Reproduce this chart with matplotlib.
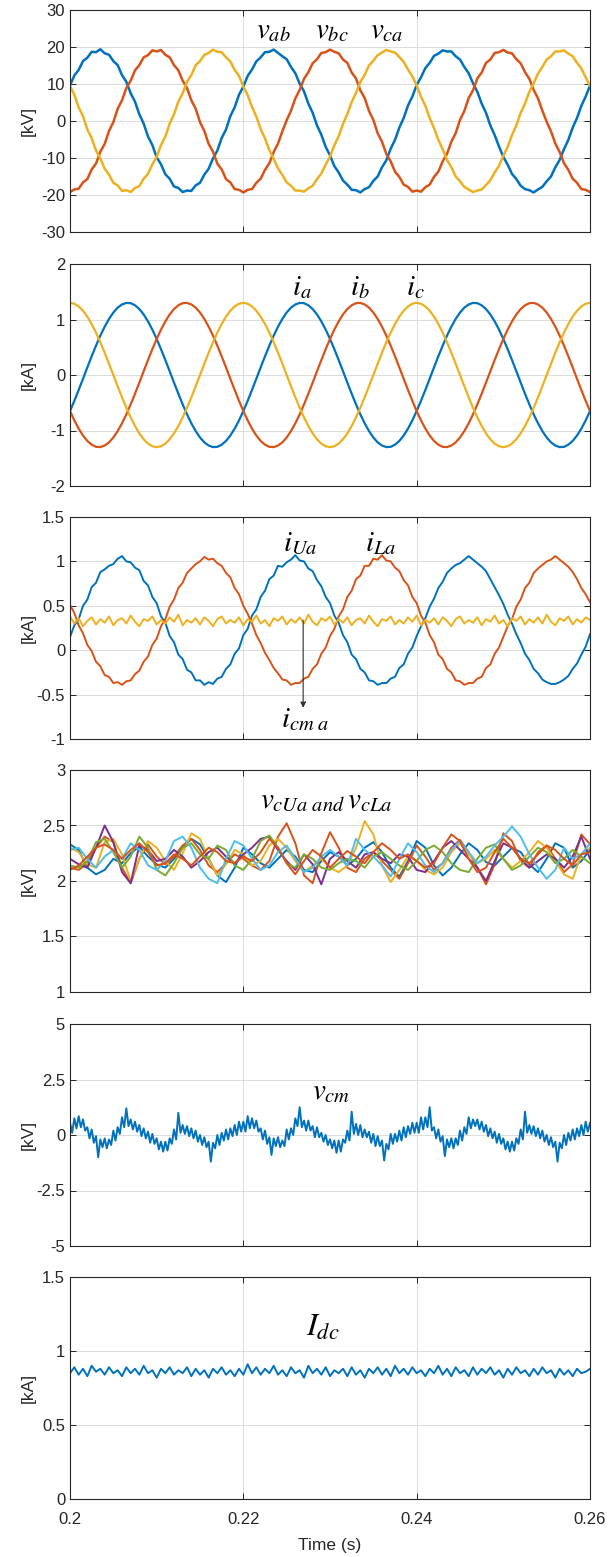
import numpy as np
import matplotlib
matplotlib.use("Agg")
import matplotlib.pyplot as plt

plt.rcParams['font.family'] = ['Liberation Sans', 'DejaVu Sans']
plt.rcParams['mathtext.fontset'] = 'stix'
plt.rcParams['axes.unicode_minus'] = False

# ---------------- data ----------------
T_START, T_END = 0.2, 0.26

v_ab = [9.6, 12.3, 13.8, 16.2, 17.1, 18.7, 18.6, 19.4, 18.3, 17.9, 16.2, 15.1, 12.4, 10.6, 7.5, 5.2, 1.8, -0.7, -4.2, -6.5,
        -9.8, -11.7, -14.4, -15.6, -17.7, -18.1, -19.2, -18.8, -18.9, -17.4, -16.7, -14.5, -12.9, -10.1, -8.0, -4.6, -2.3, 1.3, 3.7, 7.1,
        9.3, 12.2, 13.9, 16.1, 17.2, 18.6, 18.7, 19.3, 18.4, 17.5, 16.7, 14.6, 12.9, 10.1, 8.0, 4.7, 2.2, -1.2, -3.7, -7.0,
        -9.3, -12.2, -13.9, -16.1, -17.2, -18.6, -18.7, -19.3, -18.4, -17.9, -16.2, -15.0, -12.5, -10.6, -7.5, -5.1, -1.8, 0.8, 4.2, 6.6,
        9.7, 11.8, 14.3, 15.7, 17.6, 18.2, 19.1, 18.8, 18.8, 17.5, 16.6, 14.6, 12.9, 10.2, 7.9, 4.7, 2.2, -1.2, -3.8, -6.9,
        -9.7, -11.8, -14.3, -15.7, -17.5, -18.4, -18.7, -19.3, -18.5, -17.8, -16.3, -15.0, -12.5, -10.5, -7.6, -5.1, -1.8, 0.8, 4.1, 6.6, 9.6]
v_bc = [-19.2, -18.5, -18.3, -16.6, -15.7, -13.1, -11.5, -8.3, -6.2, -2.7, -0.3, 3.3, 5.6, 8.9, 10.9, 13.7, 15.1, 17.2, 17.8, 19.1,
        18.8, 19.2, 17.9, 17.2, 15.1, 13.7, 10.9, 8.9, 5.6, 3.3, -0.3, -2.7, -6.2, -8.3, -11.5, -13.1, -15.7, -16.6, -18.4, -18.6,
        -19.3, -18.6, -18.4, -16.7, -15.6, -13.2, -11.4, -8.4, -6.1, -2.8, 0.2, 2.8, 6.1, 8.4, 11.4, 13.2, 15.6, 16.7, 18.4, 18.6,
        19.3, 18.7, 18.3, 16.6, 15.7, 13.1, 11.5, 8.3, 6.2, 2.7, 0.3, -3.3, -5.6, -8.9, -10.9, -13.7, -15.1, -17.2, -17.8, -19.1,
        -18.8, -19.1, -17.9, -17.2, -15.1, -13.7, -10.9, -8.9, -5.6, -3.3, 0.3, 2.7, 6.2, 8.3, 11.5, 13.1, 15.7, 16.6, 18.4, 18.6,
        19.2, 18.5, 18.3, 16.7, 15.6, 13.2, 11.4, 8.4, 6.1, 2.8, -0.2, -2.8, -6.1, -8.4, -11.4, -13.2, -15.6, -16.7, -18.4, -18.6, -19.2]
v_ca = [9.4, 7.1, 3.7, 1.3, -2.3, -4.6, -8.0, -10.1, -12.9, -14.5, -16.7, -17.4, -18.9, -18.7, -19.2, -18.1, -17.6, -15.6, -14.3, -11.7,
        -9.7, -6.5, -4.2, -0.7, 1.8, 5.2, 7.5, 10.6, 12.4, 15.1, 16.2, 17.9, 18.4, 19.3, 18.7, 18.6, 17.2, 16.1, 13.8, 12.2,
        9.3, 7.0, 3.8, 1.2, -2.2, -4.7, -7.9, -10.2, -12.8, -14.6, -16.6, -17.5, -18.8, -18.8, -19.1, -18.2, -17.5, -15.7, -14.2, -11.8,
        -9.6, -6.6, -4.1, -0.8, 1.9, 5.1, 7.6, 10.5, 12.5, 15.0, 16.3, 17.8, 18.5, 19.2, 18.8, 18.5, 17.3, 16.0, 13.9, 12.1,
        9.6, 6.6, 4.1, 0.8, -1.9, -5.1, -7.6, -10.5, -12.5, -15.0, -16.3, -17.8, -18.5, -19.2, -18.8, -18.5, -17.3, -16.0, -13.9, -12.1,
        -9.4, -7.0, -3.8, -1.2, 2.2, 4.7, 7.9, 10.2, 12.8, 14.6, 16.6, 17.5, 18.8, 18.8, 19.1, 18.2, 17.5, 15.7, 14.2, 11.8, 9.5]

i_a = [-0.65, -0.465, -0.27, -0.068, 0.137, 0.337, 0.529, 0.709, 0.87, 1.01, 1.126, 1.214, 1.271, 1.299, 1.294, 1.256, 1.188, 1.091, 0.966, 0.818,
       0.65, 0.465, 0.27, 0.068, -0.137, -0.337, -0.529, -0.709, -0.87, -1.01, -1.126, -1.214, -1.271, -1.299, -1.294, -1.256, -1.188, -1.091, -0.966, -0.818,
       -0.65, -0.465, -0.27, -0.068, 0.137, 0.337, 0.529, 0.709, 0.87, 1.01, 1.126, 1.214, 1.271, 1.299, 1.294, 1.256, 1.188, 1.091, 0.966, 0.818,
       0.65, 0.465, 0.27, 0.068, -0.137, -0.337, -0.529, -0.709, -0.87, -1.01, -1.126, -1.214, -1.271, -1.299, -1.294, -1.256, -1.188, -1.091, -0.966, -0.818,
       -0.65, -0.465, -0.27, -0.068, 0.137, 0.337, 0.529, 0.709, 0.87, 1.01, 1.126, 1.214, 1.271, 1.299, 1.294, 1.256, 1.188, 1.091, 0.966, 0.818,
       0.65, 0.465, 0.27, 0.068, -0.137, -0.337, -0.529, -0.709, -0.87, -1.01, -1.126, -1.214, -1.271, -1.299, -1.294, -1.256, -1.188, -1.091, -0.966, -0.818, -0.65]
i_b = [-0.65, -0.818, -0.966, -1.091, -1.188, -1.256, -1.294, -1.299, -1.271, -1.214, -1.126, -1.01, -0.87, -0.709, -0.529, -0.337, -0.137, 0.068, 0.27, 0.465,
       0.65, 0.818, 0.966, 1.091, 1.188, 1.256, 1.294, 1.299, 1.271, 1.214, 1.126, 1.01, 0.87, 0.709, 0.529, 0.337, 0.137, -0.068, -0.27, -0.465,
       -0.65, -0.818, -0.966, -1.091, -1.188, -1.256, -1.294, -1.299, -1.271, -1.214, -1.126, -1.01, -0.87, -0.709, -0.529, -0.337, -0.137, 0.068, 0.27, 0.465,
       0.65, 0.818, 0.966, 1.091, 1.188, 1.256, 1.294, 1.299, 1.271, 1.214, 1.126, 1.01, 0.87, 0.709, 0.529, 0.337, 0.137, -0.068, -0.27, -0.465,
       -0.65, -0.818, -0.966, -1.091, -1.188, -1.256, -1.294, -1.299, -1.271, -1.214, -1.126, -1.01, -0.87, -0.709, -0.529, -0.337, -0.137, 0.068, 0.27, 0.465,
       0.65, 0.818, 0.966, 1.091, 1.188, 1.256, 1.294, 1.299, 1.271, 1.214, 1.126, 1.01, 0.87, 0.709, 0.529, 0.337, 0.137, -0.068, -0.27, -0.465, -0.65]
i_c = [1.3, 1.284, 1.236, 1.158, 1.052, 0.919, 0.764, 0.59, 0.402, 0.203, 0.0, -0.203, -0.402, -0.59, -0.764, -0.919, -1.052, -1.158, -1.236, -1.284,
       -1.3, -1.284, -1.236, -1.158, -1.052, -0.919, -0.764, -0.59, -0.402, -0.203, 0.0, 0.203, 0.402, 0.59, 0.764, 0.919, 1.052, 1.158, 1.236, 1.284,
       1.3, 1.284, 1.236, 1.158, 1.052, 0.919, 0.764, 0.59, 0.402, 0.203, 0.0, -0.203, -0.402, -0.59, -0.764, -0.919, -1.052, -1.158, -1.236, -1.284,
       -1.3, -1.284, -1.236, -1.158, -1.052, -0.919, -0.764, -0.59, -0.402, -0.203, 0.0, 0.203, 0.402, 0.59, 0.764, 0.919, 1.052, 1.158, 1.236, 1.284,
       1.3, 1.284, 1.236, 1.158, 1.052, 0.919, 0.764, 0.59, 0.402, 0.203, 0.0, -0.203, -0.402, -0.59, -0.764, -0.919, -1.052, -1.158, -1.236, -1.284,
       -1.3, -1.284, -1.236, -1.158, -1.052, -0.919, -0.764, -0.59, -0.402, -0.203, 0.0, 0.203, 0.402, 0.59, 0.764, 0.919, 1.052, 1.158, 1.236, 1.284, 1.3]

i_Ua = [0.15, 0.28, 0.35, 0.50, 0.57, 0.71, 0.76, 0.88, 0.91, 0.95, 0.97, 1.03, 1.06, 1.00, 0.99, 0.93, 0.90, 0.78, 0.73, 0.60,
        0.53, 0.38, 0.31, 0.16, 0.09, -0.05, -0.10, -0.22, -0.25, -0.34, -0.34, -0.39, -0.36, -0.38, -0.32, -0.30, -0.21, -0.16, -0.04, 0.02,
        0.17, 0.24, 0.39, 0.46, 0.60, 0.67, 0.80, 0.84, 0.95, 0.94, 0.99, 1.02, 1.07, 1.01, 1.00, 0.92, 0.89, 0.79, 0.72, 0.60,
        0.53, 0.39, 0.31, 0.17, 0.09, -0.05, -0.10, -0.21, -0.25, -0.34, -0.35, -0.39, -0.37, -0.37, -0.32, -0.30, -0.20, -0.16, -0.04, 0.03,
        0.16, 0.27, 0.36, 0.49, 0.58, 0.70, 0.77, 0.87, 0.92, 0.96, 0.98, 1.02, 1.06, 1.02, 0.98, 0.94, 0.89, 0.80, 0.71, 0.62,
        0.52, 0.40, 0.30, 0.18, 0.08, -0.04, -0.11, -0.21, -0.26, -0.33, -0.36, -0.38, -0.38, -0.36, -0.33, -0.29, -0.21, -0.15, -0.05, 0.04, 0.18]
i_La = [0.51, 0.42, 0.28, 0.19, 0.06, -0.01, -0.13, -0.18, -0.28, -0.30, -0.37, -0.36, -0.39, -0.35, -0.34, -0.27, -0.23, -0.13, -0.07, 0.06,
        0.13, 0.27, 0.35, 0.49, 0.57, 0.70, 0.76, 0.87, 0.92, 0.97, 1.00, 1.05, 1.02, 1.03, 0.98, 0.95, 0.87, 0.82, 0.70, 0.63,
        0.50, 0.41, 0.30, 0.17, 0.08, -0.03, -0.11, -0.20, -0.26, -0.33, -0.34, -0.39, -0.37, -0.37, -0.32, -0.30, -0.21, -0.16, -0.04, 0.03,
        0.16, 0.24, 0.38, 0.46, 0.60, 0.67, 0.80, 0.84, 0.95, 0.95, 1.03, 1.02, 1.07, 1.01, 1.00, 0.93, 0.89, 0.79, 0.73, 0.60,
        0.53, 0.39, 0.31, 0.17, 0.09, -0.05, -0.10, -0.21, -0.25, -0.34, -0.35, -0.39, -0.37, -0.37, -0.32, -0.30, -0.20, -0.16, -0.04, 0.03,
        0.15, 0.27, 0.35, 0.49, 0.57, 0.70, 0.76, 0.87, 0.92, 0.96, 1.00, 1.02, 1.06, 1.02, 0.98, 0.94, 0.88, 0.80, 0.70, 0.63, 0.54]
i_cma = [0.38, 0.30, 0.36, 0.27, 0.33, 0.37, 0.29, 0.35, 0.31, 0.38, 0.28, 0.34, 0.36, 0.30, 0.39, 0.32, 0.27, 0.35, 0.33, 0.38,
         0.29, 0.34, 0.30, 0.37, 0.32, 0.40, 0.28, 0.34, 0.31, 0.36, 0.29, 0.37, 0.33, 0.27, 0.35, 0.38, 0.30, 0.34, 0.31, 0.37,
         0.28, 0.35, 0.32, 0.39, 0.30, 0.34, 0.27, 0.36, 0.33, 0.38, 0.29, 0.35, 0.31, 0.37, 0.30, 0.40, 0.32, 0.28, 0.36, 0.33,
         0.38, 0.29, 0.35, 0.31, 0.37, 0.28, 0.34, 0.36, 0.30, 0.39, 0.32, 0.27, 0.35, 0.33, 0.38, 0.29, 0.34, 0.30, 0.37, 0.32,
         0.39, 0.28, 0.34, 0.31, 0.36, 0.29, 0.37, 0.33, 0.27, 0.35, 0.38, 0.30, 0.34, 0.31, 0.37, 0.28, 0.35, 0.32, 0.39, 0.30,
         0.34, 0.27, 0.36, 0.33, 0.38, 0.29, 0.35, 0.31, 0.37, 0.30, 0.40, 0.32, 0.28, 0.36, 0.33, 0.38, 0.29, 0.35, 0.31, 0.37, 0.34]

vc_blue = [2.33, 2.28, 2.12, 2.06, 2.10, 2.20, 2.16, 2.25, 2.31, 2.22, 2.15, 2.12, 2.20, 2.30, 2.38, 2.33, 2.20, 2.05, 1.99, 2.12,
           2.30, 2.24, 2.16, 2.12, 2.20, 2.28, 2.22, 2.10, 2.08, 2.18, 2.26, 2.22, 2.14, 2.20, 2.30, 2.35, 2.26, 2.12, 2.04, 2.18,
           2.36, 2.30, 2.14, 2.05, 2.12, 2.24, 2.34, 2.28, 2.17, 2.14, 2.22, 2.30, 2.26, 2.15, 2.08, 2.20, 2.34, 2.30, 2.12, 2.18, 2.28]
vc_red = [2.12, 2.10, 2.16, 2.30, 2.40, 2.35, 2.12, 1.98, 2.20, 2.33, 2.22, 2.15, 2.22, 2.32, 2.38, 2.28, 2.14, 2.08, 2.16, 2.24,
          2.20, 2.14, 2.10, 2.18, 2.40, 2.52, 2.34, 2.05, 1.98, 2.25, 2.44, 2.30, 2.12, 2.08, 2.20, 2.26, 2.18, 2.10, 2.02, 2.16,
          2.32, 2.22, 2.10, 2.16, 2.30, 2.37, 2.26, 2.12, 1.97, 2.15, 2.43, 2.36, 2.18, 2.12, 2.26, 2.32, 2.20, 2.08, 2.15, 2.42, 2.33]
vc_yellow = [2.30, 2.26, 2.15, 2.12, 2.35, 2.38, 2.24, 2.00, 2.20, 2.36, 2.30, 2.18, 2.10, 2.25, 2.43, 2.38, 2.20, 2.05, 2.15, 2.28,
             2.24, 2.14, 2.18, 2.32, 2.38, 2.30, 2.18, 2.08, 2.14, 2.20, 2.12, 2.08, 2.14, 2.30, 2.54, 2.42, 2.14, 1.99, 2.10, 2.22,
             2.18, 2.10, 2.06, 2.12, 2.26, 2.34, 2.24, 2.16, 2.20, 2.28, 2.20, 2.12, 2.18, 2.26, 2.36, 2.30, 2.18, 2.06, 2.02, 2.24, 2.30]
vc_purple = [2.20, 2.15, 2.12, 2.30, 2.50, 2.35, 2.08, 1.98, 2.32, 2.28, 2.18, 2.20, 2.28, 2.22, 2.12, 2.18, 2.26, 2.30, 2.22, 2.16,
             2.24, 2.30, 2.38, 2.40, 2.28, 2.18, 2.10, 2.24, 2.15, 1.97, 2.20, 2.26, 2.18, 2.12, 2.24, 2.26, 2.20, 2.16, 2.24, 2.22,
             2.10, 2.08, 2.18, 2.30, 2.36, 2.28, 2.20, 2.12, 2.00, 2.18, 2.34, 2.30, 2.20, 2.12, 2.18, 2.24, 2.20, 2.12, 2.22, 2.40, 2.20]
vc_green = [2.14, 2.12, 2.18, 2.35, 2.38, 2.26, 2.12, 2.22, 2.40, 2.30, 2.10, 2.05, 2.16, 2.30, 2.34, 2.24, 2.20, 2.32, 2.28, 2.14,
            2.10, 2.20, 2.36, 2.41, 2.30, 2.16, 2.12, 2.24, 2.20, 2.12, 2.10, 2.16, 2.20, 2.18, 2.12, 2.22, 2.26, 2.20, 2.14, 2.10,
            2.18, 2.28, 2.32, 2.26, 2.16, 2.10, 2.08, 2.20, 2.30, 2.33, 2.20, 2.10, 2.14, 2.22, 2.30, 2.26, 2.16, 2.20, 2.28, 2.22, 2.16]
vc_cyan = [2.28, 2.30, 2.20, 2.12, 2.22, 2.28, 2.20, 2.34, 2.28, 2.14, 2.10, 2.18, 2.36, 2.40, 2.30, 2.12, 2.02, 1.98, 2.20, 2.36,
           2.32, 2.20, 2.10, 2.14, 2.26, 2.32, 2.20, 2.08, 2.12, 2.22, 2.28, 2.22, 2.14, 2.38, 2.28, 2.22, 2.14, 2.04, 2.20, 2.34,
           2.26, 2.14, 2.08, 2.16, 2.28, 2.36, 2.26, 2.16, 2.22, 2.32, 2.40, 2.49, 2.40, 2.24, 2.12, 2.02, 2.10, 2.30, 2.20, 2.24, 2.34]
vc_red2 = [2.10, 2.14, 2.22, 2.30, 2.33, 2.28, 2.20, 2.28, 2.34, 2.26, 2.14, 2.16, 2.24, 2.20, 2.14, 2.22, 2.30, 2.26, 2.18, 2.16,
           2.22, 2.18, 2.26, 2.38, 2.30, 2.16, 2.06, 2.18, 2.28, 2.22, 2.12, 2.20, 2.27, 2.22, 2.16, 2.26, 2.34, 2.28, 2.20, 2.24,
           2.18, 2.12, 2.16, 2.30, 2.42, 2.36, 2.20, 2.08, 2.12, 2.26, 2.38, 2.30, 2.20, 2.16, 2.24, 2.32, 2.28, 2.20, 2.14, 2.24, 2.26]

v_cm = [0.55, 0.10, 0.75, 0.30, 0.85, 0.35, 0.70, 0.20, 0.35, -0.15, 0.25, -0.35, -0.05, -1.0, -0.20, -0.55,
        -0.15, -0.60, -0.20, -0.45, 0.20, -0.25, 0.35, 0.05, 0.80, 0.35, 1.20, 0.40, 0.70, 0.25, 0.60, 0.15,
        0.45, -0.05, 0.30, -0.15, 0.15, -0.35, 0.05, -0.40, -0.15, -0.65, -0.30, -0.75, -0.30, -0.70, -0.15, -0.40,
        0.25, -0.20, 1.00, 0.10, 0.45, 0.05, 0.40, -0.05, 0.30, -0.15, 0.20, -0.30, 0.00, -0.45, -0.10, -0.55,
        -0.30, -1.20, -0.35, -0.60, 0.00, -0.45, 0.10, -0.25, 0.25, -0.20, 0.30, -0.05, 0.45, 0.00, 0.60, 0.15,
        0.60, 0.15, 0.85, 0.30, 0.75, 0.30, 0.65, 0.15, 0.30, -0.20, 0.20, -0.40, -0.10, -0.90, -0.15, -0.50,
        -0.10, -0.55, -0.25, -0.50, 0.25, -0.20, 0.30, 0.00, 0.75, 0.40, 1.25, 0.35, 0.65, 0.20, 0.65, 0.20,
        0.40, -0.10, 0.35, -0.10, 0.10, -0.30, 0.00, -0.45, -0.20, -0.60, -0.25, -0.80, -0.25, -0.75, -0.20, -0.35,
        0.20, -0.25, 1.05, 0.05, 0.50, 0.00, 0.45, -0.10, 0.25, -0.10, 0.15, -0.35, 0.05, -0.50, -0.05, -0.50,
        -0.25, -1.15, -0.40, -0.65, 0.05, -0.40, 0.05, -0.30, 0.20, -0.25, 0.35, -0.10, 0.40, 0.05, 0.55, 0.10,
        0.55, 0.10, 0.80, 0.25, 0.80, 0.35, 1.25, 0.20, 0.35, -0.15, 0.25, -0.30, -0.05, -0.95, -0.20, -0.55,
        -0.15, -0.60, -0.15, -0.45, 0.20, -0.25, 0.35, 0.05, 0.80, 0.30, 0.70, 0.40, 0.70, 0.25, 0.60, 0.15,
        0.45, -0.05, 0.30, -0.15, 0.15, -0.35, 0.05, -0.40, -0.15, -0.65, -0.30, -0.75, -0.30, -0.70, -0.15, -0.40,
        0.25, -0.20, 1.05, 0.10, 0.45, 0.05, 0.40, -0.05, 0.30, -0.15, 0.20, -0.30, 0.00, -0.45, -0.10, -0.55,
        -0.30, -1.20, -0.35, -0.60, 0.00, -0.45, 0.10, -0.25, 0.25, -0.20, 0.30, -0.05, 0.45, 0.00, 0.60, 0.15, 0.55]

I_dc = [0.85, 0.89, 0.84, 0.88, 0.83, 0.90, 0.86, 0.88, 0.84, 0.89, 0.85, 0.87, 0.83, 0.89, 0.85, 0.88, 0.84, 0.90, 0.85, 0.87,
        0.82, 0.88, 0.85, 0.89, 0.84, 0.87, 0.85, 0.89, 0.83, 0.88, 0.84, 0.87, 0.82, 0.88, 0.85, 0.89, 0.84, 0.87, 0.83, 0.88,
        0.84, 0.91, 0.85, 0.89, 0.84, 0.88, 0.85, 0.90, 0.84, 0.87, 0.83, 0.89, 0.85, 0.87, 0.82, 0.90, 0.85, 0.88, 0.84, 0.89,
        0.83, 0.87, 0.85, 0.88, 0.83, 0.89, 0.84, 0.87, 0.82, 0.88, 0.85, 0.89, 0.84, 0.88, 0.83, 0.90, 0.85, 0.88, 0.84, 0.89,
        0.85, 0.87, 0.83, 0.88, 0.85, 0.90, 0.84, 0.88, 0.83, 0.89, 0.85, 0.87, 0.83, 0.89, 0.84, 0.88, 0.85, 0.89, 0.84, 0.87,
        0.82, 0.88, 0.84, 0.89, 0.85, 0.87, 0.83, 0.88, 0.84, 0.89, 0.85, 0.87, 0.82, 0.88, 0.84, 0.87, 0.83, 0.88, 0.85, 0.86, 0.88]

x_ticks = [0.2, 0.22, 0.24, 0.26]
x_ticklabels = ['0.2', '0.22', '0.24', '0.26']

# ---------------- style ----------------
C_BLUE, C_RED, C_YEL = '#0072BD', '#D95319', '#EDB120'
C_PUR, C_GRN, C_CYA = '#7E2F8E', '#77AC30', '#4DBEEE'
AX_COL = '#262626'

W, H = 616, 1557
fig = plt.figure(figsize=(W / 100, H / 100), dpi=100)

left_px, right_px = 70, 590
ax_h_px = 222
bottoms_px = [232, 486, 739, 992, 1246, 1499]


def make_ax(bottom_px):
    ax = fig.add_axes([left_px / W, 1 - bottom_px / H, (right_px - left_px) / W, ax_h_px / H])
    ax.set_xlim(T_START, T_END)
    ax.set_xticks(x_ticks)
    ax.grid(True, color='#dcdcdc', linewidth=0.7)
    ax.set_axisbelow(True)
    ax.tick_params(direction='in', top=True, right=True, length=4, width=0.7,
                   colors=AX_COL, labelsize=12, labelcolor=AX_COL)
    ax.tick_params(axis='x', pad=9)
    for s in ax.spines.values():
        s.set_color(AX_COL)
        s.set_linewidth(0.8)
    ax.yaxis.set_label_coords(-0.066, 0.5)
    return ax


def tt(vals):
    return np.linspace(T_START, T_END, len(vals))


def label(ax, x, y, s, size=21):
    ax.text(x, y, s, ha='center', va='center', fontsize=size, color='black')


# Panel 1
ax1 = make_ax(bottoms_px[0])
for d, c in [(v_ab, C_BLUE), (v_bc, C_RED), (v_ca, C_YEL)]:
    ax1.plot(tt(d), d, color=c, lw=1.8)
ax1.set_ylim(-30, 30)
ax1.set_yticks([-30, -20, -10, 0, 10, 20, 30])
ax1.set_xticklabels([])
ax1.set_ylabel('[kV]', fontsize=12.5, color=AX_COL)
label(ax1, 0.2235, 24.5, r'$v_{ab}$')
label(ax1, 0.2302, 24.5, r'$v_{bc}$')
label(ax1, 0.2366, 24.5, r'$v_{ca}$')

# Panel 2
ax2 = make_ax(bottoms_px[1])
for d, c in [(i_a, C_BLUE), (i_b, C_RED), (i_c, C_YEL)]:
    ax2.plot(tt(d), d, color=c, lw=1.6)
ax2.set_ylim(-2, 2)
ax2.set_yticks([-2, -1, 0, 1, 2])
ax2.set_xticklabels([])
ax2.set_ylabel('[kA]', fontsize=12.5, color=AX_COL)
label(ax2, 0.2267, 1.58, r'$\boldsymbol{i_a}$')
label(ax2, 0.2334, 1.58, r'$\boldsymbol{i_b}$')
label(ax2, 0.2398, 1.58, r'$\boldsymbol{i_c}$')

# Panel 3
ax3 = make_ax(bottoms_px[2])
for d, c in [(i_Ua, C_BLUE), (i_La, C_RED), (i_cma, C_YEL)]:
    ax3.plot(tt(d), d, color=c, lw=1.4)
ax3.set_ylim(-1, 1.5)
ax3.set_yticks([-1, -0.5, 0, 0.5, 1, 1.5])
ax3.set_yticklabels(['-1', '-0.5', '0', '0.5', '1', '1.5'])
ax3.set_xticklabels([])
ax3.set_ylabel('[kA]', fontsize=12.5, color=AX_COL)
label(ax3, 0.2266, 1.21, r'$i_{Ua}$')
label(ax3, 0.2358, 1.21, r'$i_{La}$')
label(ax3, 0.2272, -0.78, r'$i_{cm\ a}$')
ax3.annotate('', xy=(0.2269, -0.68), xytext=(0.2269, 0.37),
             arrowprops=dict(arrowstyle='-|>', color='#333333', lw=0.8,
                             mutation_scale=8, linestyle=(0, (1, 0.6))))

# Panel 4
ax4 = make_ax(bottoms_px[3])
for d, c in [(vc_blue, C_BLUE), (vc_red, C_RED), (vc_yellow, C_YEL), (vc_purple, C_PUR),
             (vc_green, C_GRN), (vc_cyan, C_CYA), (vc_red2, C_RED)]:
    ax4.plot(tt(d), d, color=c, lw=1.4)
ax4.set_ylim(1, 3)
ax4.set_yticks([1, 1.5, 2, 2.5, 3])
ax4.set_yticklabels(['1', '1.5', '2', '2.5', '3'])
ax4.set_xticklabels([])
ax4.set_ylabel('[kV]', fontsize=12.5, color=AX_COL)
label(ax4, 0.2296, 2.73, r'$v_{cUa\ and}\,v_{cLa}$')

# Panel 5
ax5 = make_ax(bottoms_px[4])
ax5.plot(tt(v_cm), v_cm, color=C_BLUE, lw=1.4)
ax5.set_ylim(-5, 5)
ax5.set_yticks([-5, -2.5, 0, 2.5, 5])
ax5.set_yticklabels(['-5', '-2.5', '0', '2.5', '5'])
ax5.set_xticklabels([])
ax5.set_ylabel('[kV]', fontsize=12.5, color=AX_COL)
label(ax5, 0.2301, 2.0, r'$v_{cm}$')

# Panel 6
ax6 = make_ax(bottoms_px[5])
ax6.plot(tt(I_dc), I_dc, color=C_BLUE, lw=1.4)
ax6.set_ylim(0, 1.5)
ax6.set_yticks([0, 0.5, 1, 1.5])
ax6.set_yticklabels(['0', '0.5', '1', '1.5'])
ax6.set_xticklabels(x_ticklabels)
ax6.set_ylabel('[kA]', fontsize=12.5, color=AX_COL)
ax6.set_xlabel('Time (s)', fontsize=12.5, color=AX_COL, labelpad=8)
label(ax6, 0.2292, 1.16, r'$I_{dc}$', size=23)

fig.savefig('out.png', dpi=100)
